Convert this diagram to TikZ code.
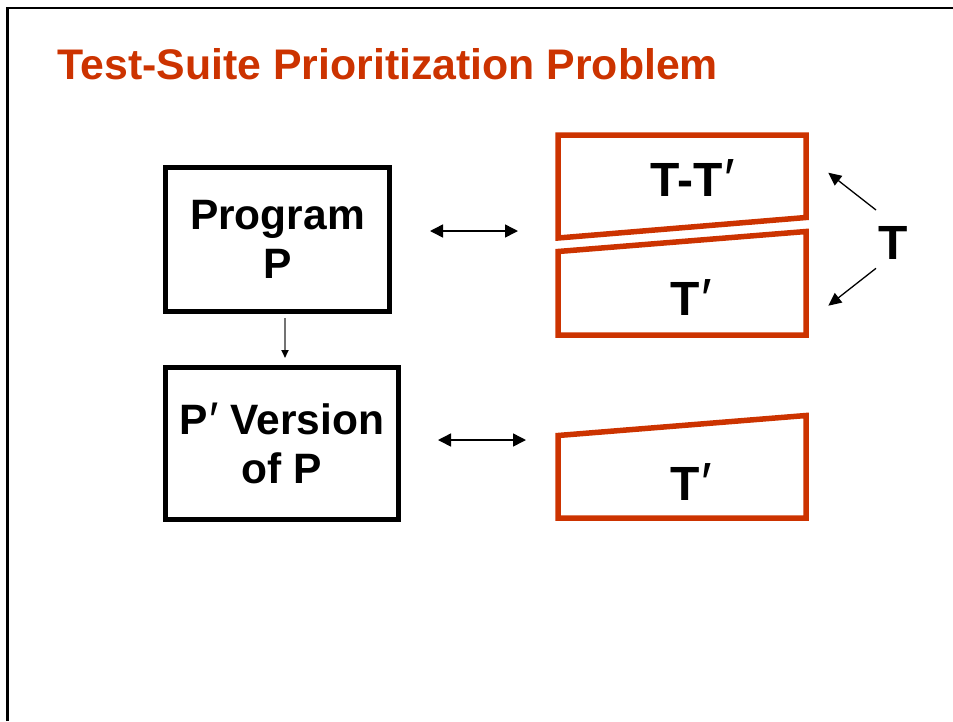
\documentclass[tikz,border=0pt]{standalone}
\usepackage{fontspec}
\setmainfont{Liberation Sans}
\usetikzlibrary{arrows.meta}
\definecolor{suitered}{RGB}{204,51,0}
\newcommand{\prm}{\kern1.5pt\raisebox{-2.5pt}{\mdseries\fontsize{1.18\dimexpr\fontdimen6\font\relax}{10}\selectfont ′}}
\begin{document}
\begin{tikzpicture}[x=1pt,y=-1pt,
  frameline/.style={line width=2.5pt},
  titletext/.style={font=\fontsize{42.8}{50}\selectfont\bfseries, text=suitered, inner sep=0pt, anchor=base west},
  progbox/.style={draw, line width=5pt, inner sep=0pt, align=center,
    font=\fontsize{42.5}{49}\selectfont\bfseries},
  redbox/.style={draw=suitered, line width=5.5pt, line join=miter},
  tlabel/.style={font=\fontsize{48}{48}\selectfont\bfseries, inner sep=0pt, anchor=base west},
  dblarrow/.style={line width=1.5pt, {Triangle[length=13pt,width=13pt]}-{Triangle[length=13pt,width=13pt]}},
  tarrow/.style={line width=1.3pt, -{Triangle[length=13pt,width=12pt]}},
  thinarrow/.style={line width=1.8pt, black!55, -{Triangle[length=8pt,width=7pt,color=black]}}
]
\useasboundingbox (0,0) rectangle (953,721);
% frame
\coordinate (fbl) at (7.5,721);
\coordinate (ftl) at (7.5,8);
\coordinate (ftr) at (953,8);
\draw[frameline] (fbl) -- (ftl) -- (ftr);
% title
\node[titletext] (title) at (57.5,79) {Test-Suite Prioritization Problem};
% program boxes
\node[progbox, minimum width=224pt, minimum height=144pt] (prog) at (277.5,239.5) {Program\\P};
\node[progbox, minimum width=233pt, minimum height=152pt] (pver) at (282,443.5) {P\prm{} Version\\of P};
\draw[thinarrow, shorten <=4pt, shorten >=7pt] ([xshift=7.5pt]prog.south) -- ([xshift=3pt]pver.north);
% red test-suite shapes
\draw[redbox] (558,135) -- (806,135) -- (806,217.5) -- (558,238) -- cycle;
\draw[redbox] (558,251.5) -- (806,231.5) -- (806,335) -- (558,335) -- cycle;
\draw[redbox] (558,435.5) -- (806,415.5) -- (806,518) -- (558,518) -- cycle;
\node[tlabel] (ttp) at (650.5,196) {T-T\prm};
\node[tlabel] (tp1) at (670.5,315.7) {T\prm};
\node[tlabel] (tp2) at (670.5,500) {T\prm};
\node[tlabel] (tall) at (878,259.3) {T};
% double arrows
\coordinate (da1) at (430,231);
\coordinate (db1) at (518,231);
\coordinate (da2) at (438,440);
\coordinate (db2) at (526,440);
\draw[dblarrow] (da1) -- (db1);
\draw[dblarrow] (da2) -- (db2);
% arrows from T
\coordinate (ts1) at (876,210);
\coordinate (tt1) at (828.3,172.7);
\coordinate (ts2) at (876,268.3);
\coordinate (tt2) at (828.3,305.7);
\draw[tarrow] (ts1) -- (tt1);
\draw[tarrow] (ts2) -- (tt2);
\end{tikzpicture}
\end{document}
